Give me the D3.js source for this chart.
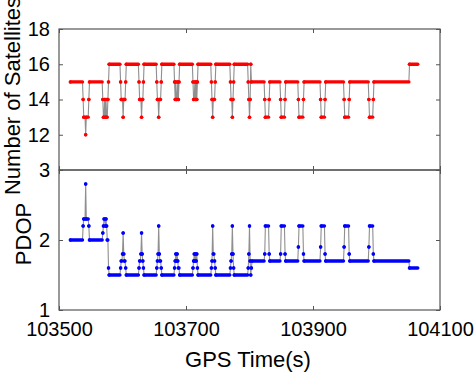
<!DOCTYPE html>
<html>
<head>
<meta charset="utf-8">
<script src="https://cdn.jsdelivr.net/npm/d3@7"></script>
<style>
  body { margin: 0; background: #fff; }
  text { font-family: "Liberation Sans", Arial, sans-serif; fill: #000; }
</style>
</head>
<body>
<div id="chart"></div>
<script>

////////////////////////////////////////////////////////////
// Data  (runs of equal value: [start time, end time, value])
////////////////////////////////////////////////////////////

const x_ticks = [103500, 103700, 103900, 104100]
const sat_ticks = [12, 14, 16, 18]
const pdop_ticks = [1, 2, 3]

const sat_runs = [
  [103518, 103537, 15], [103538, 103538, 14], [103539, 103541, 13], [103542, 103542, 12],
  [103543, 103546, 13], [103547, 103547, 14], [103548, 103568, 15], [103569, 103569, 14],
  [103570, 103571, 13], [103572, 103572, 14], [103573, 103573, 13], [103574, 103574, 14],
  [103575, 103576, 13], [103577, 103577, 14], [103578, 103578, 15], [103579, 103596, 16],
  [103597, 103597, 15], [103598, 103600, 14], [103601, 103601, 13], [103602, 103604, 14],
  [103605, 103605, 15], [103606, 103625, 16], [103626, 103626, 15], [103627, 103629, 14],
  [103630, 103630, 13], [103631, 103632, 14], [103633, 103633, 15], [103634, 103653, 16],
  [103654, 103654, 15], [103655, 103656, 14], [103657, 103657, 13], [103658, 103660, 14],
  [103661, 103661, 15], [103662, 103681, 16], [103682, 103682, 15], [103683, 103683, 14],
  [103684, 103684, 15], [103685, 103686, 14], [103687, 103687, 15], [103688, 103688, 14],
  [103689, 103689, 15], [103690, 103710, 16], [103711, 103711, 15], [103712, 103713, 14],
  [103714, 103714, 15], [103715, 103715, 14], [103716, 103716, 15], [103717, 103717, 14],
  [103718, 103718, 15], [103719, 103739, 16], [103740, 103740, 15], [103741, 103741, 14],
  [103742, 103742, 13], [103743, 103745, 14], [103746, 103746, 15], [103747, 103769, 16],
  [103770, 103770, 15], [103771, 103772, 14], [103773, 103773, 13], [103774, 103774, 14],
  [103775, 103775, 15], [103776, 103797, 16], [103798, 103798, 15], [103799, 103799, 14],
  [103800, 103800, 13], [103801, 103801, 14], [103802, 103802, 16], [103803, 103823, 15],
  [103824, 103824, 14], [103825, 103830, 13], [103831, 103831, 14], [103832, 103848, 15],
  [103849, 103849, 14], [103850, 103855, 13], [103856, 103856, 14], [103857, 103876, 15],
  [103877, 103877, 14], [103878, 103884, 13], [103885, 103885, 14], [103886, 103911, 15],
  [103912, 103912, 14], [103913, 103918, 13], [103919, 103919, 14], [103920, 103948, 15],
  [103949, 103949, 14], [103950, 103956, 13], [103957, 103957, 14], [103958, 103987, 15],
  [103988, 103988, 14], [103989, 103994, 13], [103995, 103995, 14], [103996, 104051, 15],
  [104052, 104065, 16]
]

const pdop_runs = [
  [103518, 103537, 2.0], [103538, 103538, 2.2], [103539, 103541, 2.3], [103542, 103542, 2.8],
  [103543, 103546, 2.3], [103547, 103547, 2.2], [103548, 103568, 2.0], [103569, 103569, 2.1],
  [103570, 103570, 2.2], [103571, 103572, 2.3], [103573, 103573, 2.2], [103574, 103574, 2.3],
  [103575, 103575, 2.2], [103576, 103577, 2.0], [103578, 103578, 1.6], [103579, 103596, 1.5],
  [103597, 103597, 1.6], [103598, 103599, 1.7], [103600, 103600, 1.8], [103601, 103601, 2.1],
  [103602, 103602, 1.8], [103603, 103604, 1.7], [103605, 103605, 1.6], [103606, 103625, 1.5],
  [103626, 103626, 1.6], [103627, 103628, 1.7], [103629, 103629, 1.8], [103630, 103630, 2.1],
  [103631, 103631, 1.8], [103632, 103632, 1.7], [103633, 103633, 1.6], [103634, 103653, 1.5],
  [103654, 103654, 1.6], [103655, 103655, 1.7], [103656, 103656, 1.8], [103657, 103657, 2.2],
  [103658, 103658, 1.8], [103659, 103660, 1.7], [103661, 103661, 1.6], [103662, 103681, 1.5],
  [103682, 103682, 1.6], [103683, 103683, 1.7], [103684, 103684, 1.8], [103685, 103685, 1.7],
  [103686, 103686, 1.8], [103687, 103687, 1.7], [103688, 103689, 1.6], [103690, 103710, 1.5],
  [103711, 103711, 1.6], [103712, 103712, 1.7], [103713, 103713, 1.8], [103714, 103714, 1.7],
  [103715, 103715, 1.8], [103716, 103716, 1.7], [103717, 103717, 1.8], [103718, 103718, 1.6],
  [103719, 103739, 1.5], [103740, 103740, 1.6], [103741, 103741, 1.7], [103742, 103742, 2.2],
  [103743, 103744, 1.8], [103745, 103745, 1.7], [103746, 103746, 1.6], [103747, 103769, 1.5],
  [103770, 103770, 1.6], [103771, 103771, 1.7], [103772, 103772, 1.8], [103773, 103773, 2.2],
  [103774, 103774, 1.8], [103775, 103775, 1.6], [103776, 103797, 1.5], [103798, 103798, 1.6],
  [103799, 103799, 1.8], [103800, 103800, 2.2], [103801, 103801, 1.7], [103802, 103802, 1.5],
  [103803, 103803, 1.6], [103804, 103823, 1.7], [103824, 103824, 1.8], [103825, 103830, 2.2],
  [103831, 103831, 1.8], [103832, 103848, 1.7], [103849, 103849, 1.8], [103850, 103855, 2.2],
  [103856, 103856, 1.8], [103857, 103876, 1.7], [103877, 103877, 1.9], [103878, 103884, 2.2],
  [103885, 103885, 1.8], [103886, 103911, 1.7], [103912, 103912, 1.9], [103913, 103918, 2.2],
  [103919, 103919, 1.8], [103920, 103948, 1.7], [103949, 103949, 1.9], [103950, 103956, 2.2],
  [103957, 103957, 1.8], [103958, 103987, 1.7], [103988, 103988, 1.9], [103989, 103994, 2.2],
  [103995, 103995, 1.8], [103996, 104051, 1.7], [104052, 104065, 1.6]
]

////////////////////////////////////////////////////////////
// Layout
////////////////////////////////////////////////////////////

const W = 474
const H = 375
const left = 59, right = 440
const top1 = 29, mid = 170, bot = 310
const axis_color = '#555'
const tick_font = 20

const svg = d3.select('#chart')
  .append('svg')
  .attr('width', W)
  .attr('height', H)

const x = d3.scaleLinear().domain([103500, 104100]).range([left, right])
const y_sat = d3.scaleLinear().domain([10, 18]).range([mid, top1])
const y_pdop = d3.scaleLinear().domain([1, 3]).range([bot, mid])

////////////////////////////////////////////////////////////
// Series
////////////////////////////////////////////////////////////

function draw_series(runs, y, color) {
  let g = svg.append('g')

  // gray connecting line through every run end
  let pts = []
  for (let r of runs) {
    pts.push([r[0], r[2]])
    pts.push([r[1], r[2]])
  }
  g.append('path')
    .datum(pts)
    .attr('fill', 'none')
    .attr('stroke', '#8f8f8f')
    .attr('stroke-width', 1.1)
    .attr('d', d3.line().x(d => x(d[0])).y(d => y(d[1])))

  // markers: runs of dots drawn as thick round-capped segments
  g.selectAll('line.run')
    .data(runs)
    .enter()
    .append('line')
      .attr('class', 'run')
      .attr('x1', d => x(d[0]))
      .attr('x2', d => x(d[1]))
      .attr('y1', d => y(d[2]))
      .attr('y2', d => y(d[2]))
      .attr('stroke', color)
      .attr('stroke-width', 3.4)
      .attr('stroke-linecap', 'round')

  g.selectAll('circle')
    .data(runs)
    .enter()
    .append('circle')
      .attr('cx', d => x(d[0]))
      .attr('cy', d => y(d[2]))
      .attr('r', 1.75)
      .attr('fill', color)
}

draw_series(sat_runs, y_sat, '#ff0000')
draw_series(pdop_runs, y_pdop, '#0000ff')

////////////////////////////////////////////////////////////
// Axes (MATLAB style box, inward ticks)
////////////////////////////////////////////////////////////

function style_axis(g, labels) {
  g.select('.domain').remove()
  g.selectAll('.tick line').attr('stroke', axis_color)
  g.selectAll('text')
    .style('font-size', tick_font + 'px')
    .attr('fill', '#000')
  if (!labels) g.selectAll('text').remove()
}

const fmt = d3.format('d')

// top panel
svg.append('g')
  .attr('transform', `translate(${left},0)`)
  .call(d3.axisLeft(y_sat).tickValues(sat_ticks).tickSize(-4).tickPadding(9).tickFormat(fmt))
  .call(g => style_axis(g, true))
svg.append('g')
  .attr('transform', `translate(${right},0)`)
  .call(d3.axisRight(y_sat).tickValues(sat_ticks).tickSize(-4))
  .call(g => style_axis(g, false))
svg.append('g')
  .attr('transform', `translate(0,${top1})`)
  .call(d3.axisTop(x).tickValues(x_ticks).tickSize(-4))
  .call(g => style_axis(g, false))
svg.append('g')
  .attr('transform', `translate(0,${mid})`)
  .call(d3.axisBottom(x).tickValues(x_ticks).tickSize(-4))
  .call(g => style_axis(g, false))

// bottom panel
svg.append('g')
  .attr('transform', `translate(${left},0)`)
  .call(d3.axisLeft(y_pdop).tickValues(pdop_ticks).tickSize(-4).tickPadding(9).tickFormat(fmt))
  .call(g => style_axis(g, true))
svg.append('g')
  .attr('transform', `translate(${right},0)`)
  .call(d3.axisRight(y_pdop).tickValues(pdop_ticks).tickSize(-4))
  .call(g => style_axis(g, false))
svg.append('g')
  .attr('transform', `translate(0,${mid})`)
  .call(d3.axisTop(x).tickValues(x_ticks).tickSize(-4))
  .call(g => style_axis(g, false))
svg.append('g')
  .attr('transform', `translate(0,${bot})`)
  .call(d3.axisBottom(x).tickValues(x_ticks).tickSize(-4).tickPadding(12).tickFormat(fmt))
  .call(g => style_axis(g, true))

// frames
svg.append('rect')
  .attr('x', left).attr('y', top1)
  .attr('width', right - left).attr('height', mid - top1)
  .attr('fill', 'none').attr('stroke', axis_color).attr('stroke-width', 1.2)
svg.append('rect')
  .attr('x', left).attr('y', mid)
  .attr('width', right - left).attr('height', bot - mid)
  .attr('fill', 'none').attr('stroke', axis_color).attr('stroke-width', 1.2)

////////////////////////////////////////////////////////////
// Labels
////////////////////////////////////////////////////////////

svg.append('text')
  .attr('transform', 'translate(20,96) rotate(-90)')
  .attr('text-anchor', 'middle')
  .style('font-size', '22px')
  .text('Number of Satellites')

svg.append('text')
  .attr('transform', 'translate(31,234) rotate(-90)')
  .attr('text-anchor', 'middle')
  .style('font-size', '22px')
  .text('PDOP')

svg.append('text')
  .attr('x', 248)
  .attr('y', 367)
  .attr('text-anchor', 'middle')
  .style('font-size', '22px')
  .text('GPS Time(s)')

</script>
</body>
</html>
